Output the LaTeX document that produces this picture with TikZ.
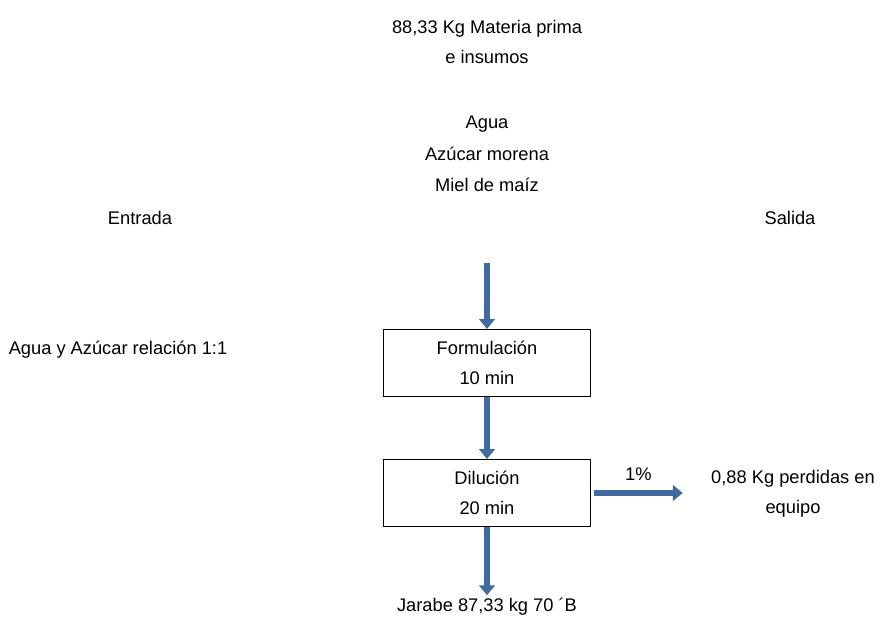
\documentclass[tikz,border=0pt]{standalone}
\usepackage{fontspec}
\setmainfont{Liberation Sans}
\usetikzlibrary{arrows.meta,positioning}
\definecolor{flowblue}{RGB}{64,106,160}

\begin{document}
\begin{tikzpicture}[x=0.025cm,y=-0.025cm,>={Triangle[width=11pt,length=7pt]}]
  \tikzstyle{txt}=[align=center,font=\fontsize{13}{21.5}\selectfont,inner sep=2pt]
  \tikzstyle{stage}=[draw,line width=0.9pt,minimum width=5.17cm,minimum height=1.67cm,align=center,font=\fontsize{13}{21.5}\selectfont]
  \tikzstyle{flow}=[flowblue,line width=4.2pt,->]
  \useasboundingbox (0,0) rectangle (881,623);

  \node[txt] (mp) at (487,42) {88,33 Kg Materia prima\\e insumos};
  \node[txt,font=\fontsize{13}{22.5}\selectfont] (ins) at (487,154) {Agua\\Azúcar morena\\Miel de maíz};
  \node[txt] (ent) at (140,218) {Entrada};
  \node[txt] (sal) at (790,218) {Salida};
  \node[txt] (rel) at (118,350) {Agua y Azúcar relación 1:1};

  \node[stage] (form) at (487,363) {Formulación\\10 min};
  \node[stage] (dil) at (487,493) {Dilución\\20 min};
  \node[txt] (perd) at (793,494) {0,88 Kg perdidas en\\equipo};
  \node[txt] (jar) at (487,607) {Jarabe 87,33 kg 70 ´B};
  \coordinate (feed) at (487,263);

  \draw[flow] (feed) -- (form.north);
  \draw[flow] (form.south) -- (dil.north);
  \draw[flow] ([xshift=2pt]dil.east) -- node[above=5pt,txt,text=black] (pct) {1\%} ([xshift=-18pt]dil.east -| perd.west);
  \draw[flow] (dil.south) -- (dil.south |- jar.north);
\end{tikzpicture}
\end{document}
